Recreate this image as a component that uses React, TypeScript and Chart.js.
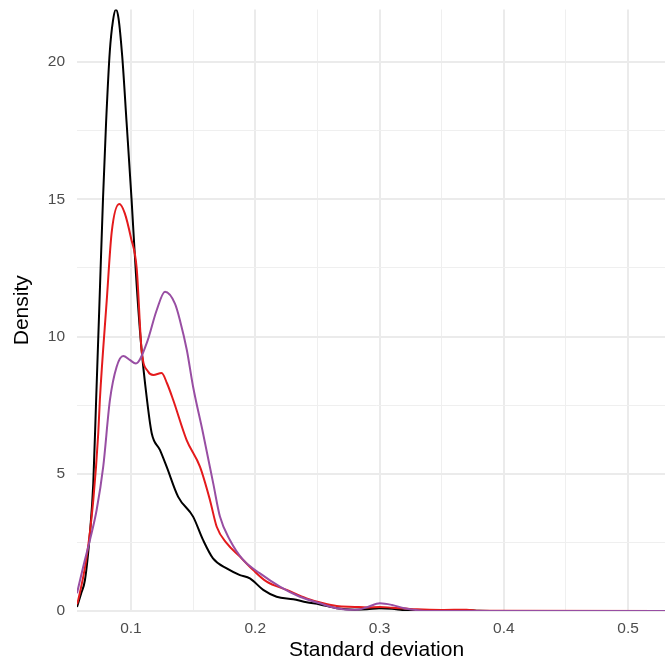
import React, { useEffect, useRef } from "react";
import { Chart, registerables } from "chart.js";

Chart.register(...registerables);

// ---- data ----
const blackX = [0.0566, 0.06, 0.063, 0.067, 0.0697, 0.072, 0.0745, 0.0775, 0.08, 0.083, 0.0855, 0.0879, 0.09, 0.093, 0.0965, 0.1005, 0.104, 0.108, 0.1129, 0.1167, 0.1233, 0.1287, 0.138, 0.15, 0.158, 0.166, 0.177, 0.1877, 0.1957, 0.2064, 0.2172, 0.2306, 0.2413, 0.252, 0.2655, 0.28, 0.29, 0.3, 0.31, 0.32, 0.34, 0.36, 0.37, 0.38, 0.4, 0.54];
const blackY = [0.15, 0.65, 1.13, 2.84, 4.65, 7.7, 11.0, 15.0, 17.8, 20.4, 21.5, 21.92, 21.6, 20.2, 17.8, 15.0, 12.3, 9.8, 7.7, 6.48, 5.87, 5.26, 4.16, 3.44, 2.59, 1.92, 1.55, 1.31, 1.19, 0.77, 0.52, 0.43, 0.32, 0.24, 0.1, 0.05, 0.06, 0.1, 0.08, 0.03, 0.01, 0.02, 0.03, 0.01, 0, 0];

const redX = [0.0566, 0.0576, 0.0644, 0.0697, 0.0737, 0.075, 0.0805, 0.0845, 0.0906, 0.095, 0.1, 0.1046, 0.1086, 0.1139, 0.118, 0.1247, 0.129, 0.134, 0.1448, 0.1555, 0.1636, 0.169, 0.177, 0.1877, 0.1984, 0.2092, 0.2253, 0.2413, 0.2547, 0.2655, 0.28, 0.29, 0.3, 0.31, 0.33, 0.35, 0.37, 0.38, 0.54];
const redY = [0.25, 0.4, 1.98, 4.04, 6.48, 7.7, 11.3, 13.8, 14.83, 14.5, 13.6, 12.5, 9.5, 8.72, 8.6, 8.67, 8.3, 7.69, 6.23, 5.26, 4.04, 3.07, 2.47, 1.98, 1.49, 1.07, 0.77, 0.46, 0.28, 0.18, 0.15, 0.13, 0.15, 0.12, 0.06, 0.04, 0.05, 0.01, 0];

const purpleX = [0.0566, 0.0616, 0.067, 0.0724, 0.0777, 0.0831, 0.0885, 0.0938, 0.099, 0.104, 0.1126, 0.1207, 0.1274, 0.1354, 0.1394, 0.145, 0.15, 0.158, 0.1662, 0.1716, 0.1796, 0.1903, 0.2038, 0.2198, 0.2359, 0.252, 0.2655, 0.275, 0.282, 0.29, 0.3003, 0.31, 0.32, 0.3325, 0.34, 0.54];
const purpleY = [0.65, 1.61, 2.59, 3.68, 5.26, 7.69, 8.9, 9.29, 9.15, 9.02, 9.75, 10.96, 11.63, 11.2, 10.6, 9.5, 8.17, 6.48, 4.65, 3.44, 2.59, 1.86, 1.37, 0.89, 0.52, 0.28, 0.1, 0.05, 0.05, 0.14, 0.28, 0.22, 0.1, 0.02, 0, 0];

const xTicks = [0.1, 0.15, 0.2, 0.25, 0.3, 0.35, 0.4, 0.45, 0.5];
const xMajor = [0.1, 0.2, 0.3, 0.4, 0.5];
const xLabels = ["0.1", "0.2", "0.3", "0.4", "0.5"];
const yTicks = [0, 2.5, 5, 7.5, 10, 12.5, 15, 17.5, 20];
const yMajor = [0, 5, 10, 15, 20];
const yLabels = ["0", "5", "10", "15", "20"];

const xTitle = "Standard deviation";
const yTitle = "Density";

const toPoints = (xs: number[], ys: number[]) => xs.map((x, i) => ({ x, y: ys[i] }));

export default function App() {
  const ref = useRef<HTMLCanvasElement | null>(null);

  useEffect(() => {
    if (!ref.current) return;
    const tickFont = { family: "'Liberation Sans', Arial, sans-serif", size: 15.5 };
    const titleFont = { family: "'Liberation Sans', Arial, sans-serif", size: 21 };
    const gridColor = (major: number[]) => (ctx: any) =>
      ctx.tick && major.includes(ctx.tick.value) ? "#EBEBEB" : "#EFEFEF";
    const gridWidth = (major: number[]) => (ctx: any) =>
      ctx.tick && major.includes(ctx.tick.value) ? 2 : 1;

    const lineStyle = {
      pointRadius: 0,
      borderWidth: 2,
      cubicInterpolationMode: "monotone" as const,
      fill: false,
    };

    const chart = new Chart(ref.current, {
      type: "line",
      data: {
        datasets: [
          { label: "purple", data: toPoints(purpleX, purpleY), borderColor: "#984EA3", ...lineStyle },
          { label: "red", data: toPoints(redX, redY), borderColor: "#E41A1C", ...lineStyle },
          { label: "black", data: toPoints(blackX, blackY), borderColor: "#000000", ...lineStyle },
        ],
      },
      options: {
        animation: false,
        responsive: false,
        layout: { padding: { top: 9.5, left: 0, right: 0, bottom: 0 } },
        plugins: { legend: { display: false }, tooltip: { enabled: false } },
        scales: {
          x: {
            type: "linear",
            min: 0.0566,
            max: 0.5385,
            afterBuildTicks: (scale: any) => {
              scale.ticks = xTicks.map((v) => ({ value: v }));
            },
            afterFit: (scale: any) => {
              scale.height = 53;
              scale.paddingLeft = 0;
              scale.paddingRight = 0;
            },
            ticks: {
              autoSkip: false,
              maxRotation: 0,
              padding: 8,
              color: "#4D4D4D",
              font: tickFont,
              callback: (v: any) => {
                const i = xMajor.indexOf(v);
                return i >= 0 ? xLabels[i] : "";
              },
            },
            grid: { color: gridColor(xMajor), lineWidth: gridWidth(xMajor), drawTicks: false },
            border: { display: false },
            title: { display: true, text: xTitle, color: "#000000", font: titleFont, padding: { top: 0, bottom: 1 } },
          },
          y: {
            type: "linear",
            min: 0,
            max: 21.92,
            afterBuildTicks: (scale: any) => {
              scale.ticks = yTicks.map((v) => ({ value: v }));
            },
            afterFit: (scale: any) => {
              scale.width = 77;
              scale.paddingTop = 0;
              scale.paddingBottom = 0;
            },
            ticks: {
              autoSkip: false,
              padding: 12,
              color: "#4D4D4D",
              font: tickFont,
              callback: (v: any) => {
                const i = yMajor.indexOf(v);
                return i >= 0 ? yLabels[i] : "";
              },
            },
            grid: { color: gridColor(yMajor), lineWidth: gridWidth(yMajor), drawTicks: false },
            border: { display: false },
            title: { display: true, text: yTitle, color: "#000000", font: titleFont, padding: { top: 9.5, bottom: 0 } },
          },
        },
      },
    });
    return () => chart.destroy();
  }, []);

  return (
    <div
      style={{
        position: "fixed",
        left: 0,
        top: 0,
        width: 665,
        height: 664,
        overflow: "hidden",
        background: "#ffffff",
      }}
    >
      <canvas ref={ref} width={676} height={664} style={{ display: "block" }} />
    </div>
  );
}
